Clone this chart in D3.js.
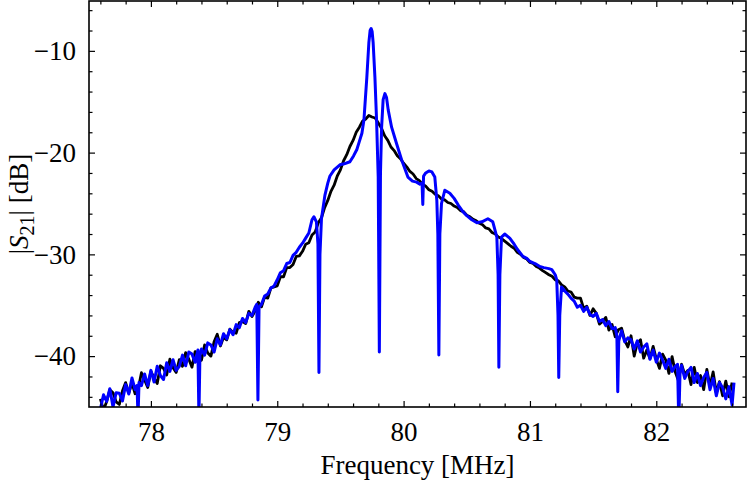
<!DOCTYPE html>
<html>
<head>
<meta charset="utf-8">
<script src="https://cdn.jsdelivr.net/npm/d3@7"></script>
<style>
  body { margin: 0; background: #fff; }
  svg { display: block; font-family: "Liberation Serif", "DejaVu Serif", serif; }
  .tick text { fill: #000; }
  .tick line { stroke: #000; stroke-width: 1.2; }
</style>
</head>
<body>
<script>

// axis ticks
var xMajorTicks = [78, 79, 80, 81, 82];
var yMajorTicks = [-40, -30, -20, -10];
var xMinorTicks = [77.6, 77.8, 78.2, 78.4, 78.6, 78.8, 79.2, 79.4, 79.6, 79.8, 80.2, 80.4, 80.6, 80.8,
                   81.2, 81.4, 81.6, 81.8, 82.2, 82.4, 82.6];
var yMinorTicks = [-44, -42, -38, -36, -34, -32, -28, -26, -24, -22, -18, -16, -14, -12, -8, -6];

// black trace: frequency [MHz], |S21| [dB]
var blackTrace = [
  [77.600,-44.2],[77.625,-45.3],[77.650,-44.45],[77.675,-43.3],[77.700,-43.6],[77.725,-44.5],[77.750,-44.75],[77.775,-43.4],
  [77.800,-42.6],[77.825,-43.63],[77.850,-42.65],[77.875,-43.7],[77.900,-43.2],[77.925,-41.63],[77.950,-42.35],[77.975,-43.08],
  [78.000,-41.5],[78.025,-42.15],[78.050,-42.7],[78.075,-40.95],[78.100,-41.2],[78.125,-41.85],[78.150,-40.3],[78.175,-41.15],
  [78.200,-41.6],[78.225,-40.35],[78.250,-41.0],[78.275,-39.65],[78.300,-40.3],[78.325,-41.08],[78.350,-39.55],[78.375,-39.73],
  [78.400,-40.4],[78.425,-38.9],[78.450,-39.7],[78.475,-40.0],[78.500,-38.6],[78.525,-37.85],[78.550,-39.0],[78.575,-38.15],
  [78.600,-38.4],[78.625,-37.35],[78.650,-37.7],[78.675,-37.75],[78.700,-36.7],[78.725,-36.6],[78.750,-36.8],[78.775,-35.6],
  [78.800,-36.1],[78.825,-35.55],[78.850,-34.7],[78.875,-35.15],[78.900,-34.2],[78.925,-34.3],[78.950,-33.3],[78.975,-33.2],
  [79.000,-33.1],[79.025,-32.2],[79.050,-32.2],[79.075,-31.3],[79.100,-31.3],[79.125,-31.0],[79.150,-30.2],[79.175,-30.15],
  [79.200,-29.7],[79.225,-29.0],[79.250,-28.85],[79.275,-28.1],[79.300,-27.8],[79.325,-26.9],[79.350,-26.4],[79.375,-25.4],
  [79.400,-24.7],[79.425,-23.8],[79.450,-23.2],[79.475,-22.3],[79.500,-21.7],[79.525,-20.8],[79.550,-20.2],[79.575,-19.4],
  [79.600,-18.8],[79.625,-18.0],[79.650,-17.5],[79.675,-16.9],[79.700,-16.7],[79.725,-16.35],[79.750,-16.5],[79.775,-16.6],
  [79.800,-17.1],[79.825,-17.6],[79.850,-18.35],[79.875,-18.8],[79.900,-19.45],[79.925,-19.8],[79.950,-20.3],[79.975,-20.6],
  [80.000,-21.05],[80.025,-21.4],[80.050,-21.85],[80.075,-22.1],[80.100,-22.55],[80.125,-22.75],[80.150,-23.1],[80.175,-23.3],
  [80.200,-23.65],[80.225,-23.8],[80.250,-24.1],[80.275,-24.25],[80.300,-24.55],[80.325,-24.65],[80.350,-24.9],[80.375,-25.0],
  [80.400,-25.25],[80.425,-25.4],[80.450,-25.7],[80.475,-25.8],[80.500,-26.15],[80.525,-26.3],[80.550,-26.55],[80.575,-26.7],
  [80.600,-26.95],[80.625,-27.1],[80.650,-27.4],[80.675,-27.5],[80.700,-27.85],[80.725,-28.0],[80.750,-28.3],[80.775,-28.45],
  [80.800,-28.7],[80.825,-28.95],[80.850,-29.2],[80.875,-29.4],[80.900,-29.8],[80.925,-30.0],[80.950,-30.3],[80.975,-30.45],
  [81.000,-30.8],[81.025,-30.9],[81.050,-31.2],[81.075,-31.35],[81.100,-31.6],[81.125,-31.8],[81.150,-32.0],[81.175,-32.15],
  [81.200,-32.5],[81.225,-32.6],[81.250,-33.0],[81.275,-33.2],[81.300,-33.6],[81.325,-33.7],[81.350,-34.2],[81.375,-34.3],
  [81.400,-34.3],[81.425,-35.3],[81.450,-35.1],[81.475,-36.0],[81.500,-35.35],[81.525,-35.8],[81.550,-36.85],[81.575,-36.6],
  [81.600,-36.2],[81.625,-37.45],[81.650,-36.9],[81.675,-38.1],[81.700,-37.4],[81.725,-37.25],[81.750,-38.45],[81.775,-39.1],
  [81.800,-38.0],[81.825,-40.0],[81.850,-38.7],[81.875,-38.4],[81.900,-40.2],[81.925,-39.4],[81.950,-40.25],[81.975,-39.05],
  [82.000,-40.3],[82.025,-41.2],[82.050,-39.8],[82.075,-40.4],[82.100,-41.7],[82.125,-40.05],[82.150,-41.55],[82.175,-42.4],
  [82.200,-40.8],[82.225,-41.8],[82.250,-41.4],[82.275,-42.8],[82.300,-41.1],[82.325,-42.6],[82.350,-41.9],[82.375,-43.3],
  [82.400,-41.3],[82.425,-42.95],[82.450,-41.55],[82.475,-43.6],[82.500,-42.5],[82.525,-43.9],[82.550,-42.45],[82.575,-44.0],
  [82.600,-42.6]
];

// blue trace: frequency [MHz], |S21| [dB]  (narrow dips every ~0.475 MHz)
var blueTrace = [
  [77.600,-45.2],[77.625,-43.8],[77.650,-44.45],[77.675,-43.2],[77.700,-45.0],[77.725,-43.6],[77.750,-43.65],[77.775,-44.4],
  [77.800,-42.8],[77.825,-43.73],[77.850,-42.15],[77.875,-43.3],[77.890,-42.9],[77.898,-46.0],[77.906,-42.6],[77.925,-42.9],
  [77.950,-41.75],[77.975,-42.9],[78.000,-41.4],[78.025,-42.55],[78.050,-41.0],[78.075,-41.9],[78.100,-42.3],[78.125,-40.65],
  [78.150,-41.5],[78.175,-40.35],[78.200,-41.4],[78.225,-41.0],[78.250,-39.9],[78.275,-40.95],[78.300,-39.6],[78.325,-39.8],
  [78.350,-40.6],[78.372,-39.4],[78.380,-46.0],[78.388,-39.9],[78.400,-39.3],[78.425,-39.9],[78.450,-38.7],[78.475,-38.9],
  [78.500,-39.6],[78.525,-38.3],[78.550,-38.9],[78.575,-37.8],[78.600,-38.3],[78.625,-37.4],[78.650,-37.9],[78.675,-36.9],
  [78.700,-37.2],[78.725,-36.3],[78.750,-36.7],[78.775,-35.8],[78.800,-36.0],[78.825,-35.2],[78.838,-34.9],[78.847,-44.3],
  [78.856,-35.2],[78.875,-34.9],[78.900,-34.1],[78.925,-33.9],[78.950,-33.3],[78.975,-33.1],[79.000,-32.5],[79.025,-31.8],
  [79.050,-31.6],[79.075,-30.9],[79.100,-30.8],[79.125,-30.1],[79.150,-29.8],[79.175,-29.3],[79.200,-28.9],[79.225,-28.4],
  [79.250,-27.9],[79.275,-26.6],[79.290,-26.3],[79.310,-26.8],[79.322,-29.0],[79.330,-41.6],[79.338,-30.0],[79.350,-26.5],
  [79.377,-24.2],[79.400,-23.0],[79.417,-22.3],[79.450,-21.7],[79.496,-21.2],[79.530,-21.1],[79.575,-20.9],[79.605,-20.3],
  [79.630,-19.7],[79.650,-18.9],[79.670,-18.1],[79.686,-16.8],[79.698,-14.6],[79.709,-12.6],[79.725,-9.2],[79.735,-8.0],
  [79.743,-7.8],[79.751,-8.1],[79.759,-9.2],[79.773,-12.6],[79.786,-16.8],[79.799,-22.4],[79.808,-39.6],[79.817,-22.0],
  [79.826,-17.5],[79.838,-14.8],[79.852,-14.2],[79.865,-14.6],[79.878,-15.8],[79.905,-17.5],[79.944,-19.1],[79.984,-20.7],
  [80.034,-22.4],[80.070,-22.8],[80.103,-22.9],[80.129,-23.1],[80.146,-23.0],[80.152,-25.1],[80.158,-22.3],[80.175,-22.0],
  [80.200,-21.8],[80.224,-21.9],[80.247,-22.4],[80.263,-24.7],[80.271,-28.0],[80.279,-39.9],[80.287,-28.0],[80.300,-25.0],
  [80.326,-23.7],[80.366,-24.0],[80.400,-24.5],[80.435,-25.2],[80.469,-25.8],[80.500,-26.2],[80.540,-26.6],[80.580,-26.9],
  [80.620,-26.8],[80.667,-26.5],[80.706,-26.8],[80.738,-28.3],[80.748,-32.0],[80.754,-41.1],[80.762,-32.0],[80.775,-28.3],
  [80.800,-28.0],[80.840,-28.4],[80.875,-29.0],[80.900,-29.5],[80.944,-30.2],[80.975,-30.4],[81.000,-30.7],[81.040,-30.9],
  [81.078,-31.2],[81.110,-31.3],[81.150,-31.4],[81.173,-31.5],[81.200,-32.0],[81.212,-32.5],[81.222,-36.0],[81.228,-42.1],
  [81.236,-36.0],[81.250,-33.2],[81.275,-33.6],[81.300,-33.9],[81.325,-34.3],[81.350,-34.6],[81.375,-35.2],[81.400,-35.0],
  [81.425,-35.6],[81.450,-35.2],[81.475,-35.9],[81.500,-36.1],[81.525,-35.8],[81.550,-36.6],[81.575,-36.4],[81.600,-37.0],
  [81.625,-36.6],[81.650,-37.3],[81.675,-37.2],[81.688,-38.0],[81.695,-43.5],[81.703,-38.5],[81.725,-37.5],[81.750,-38.6],
  [81.775,-38.2],[81.800,-38.4],[81.825,-39.3],[81.850,-38.5],[81.875,-39.6],[81.900,-39.1],[81.925,-38.8],[81.950,-40.3],
  [81.975,-39.4],[82.000,-40.6],[82.025,-39.7],[82.050,-40.4],[82.075,-41.2],[82.100,-40.3],[82.125,-41.5],[82.150,-41.0],
  [82.168,-40.8],[82.178,-46.5],[82.188,-41.6],[82.200,-40.9],[82.225,-42.2],[82.250,-41.5],[82.275,-41.1],[82.300,-42.6],
  [82.325,-41.7],[82.350,-42.9],[82.375,-42.1],[82.400,-41.6],[82.425,-43.3],[82.450,-42.2],[82.475,-43.9],[82.500,-42.6],
  [82.525,-43.1],[82.550,-44.2],[82.575,-43.0],[82.600,-44.8],[82.615,-42.6]
];

var width = 747, height = 482;
var margin = {top: 1, right: 1, bottom: 75, left: 89};
var fontSize = 27;

var svg = d3.select("body").append("svg")
  .attr("width", width)
  .attr("height", height);

var x = d3.scaleLinear().domain([77.51, 82.71]).range([margin.left, width - margin.right]);
var y = d3.scaleLinear().domain([-45, -5.1]).range([height - margin.bottom, margin.top]);

var minus = function(d) { return d < 0 ? "\u2212" + Math.abs(d) : d + ""; };

svg.append("clipPath").attr("id", "plotclip")
  .append("rect")
  .attr("x", x.range()[0]).attr("y", y.range()[1])
  .attr("width", x.range()[1] - x.range()[0])
  .attr("height", y.range()[0] - y.range()[1]);

var line = d3.line()
  .x(function(d) { return x(d[0]); })
  .y(function(d) { return y(d[1]); });

var traces = svg.append("g").attr("clip-path", "url(#plotclip)");

traces.append("path")
  .datum(blackTrace)
  .attr("d", line)
  .attr("fill", "none")
  .attr("stroke", "#000")
  .attr("stroke-width", 2.8)
  .attr("stroke-linejoin", "round");

traces.append("path")
  .datum(blueTrace)
  .attr("d", line)
  .attr("fill", "none")
  .attr("stroke", "#0000ff")
  .attr("stroke-width", 3)
  .attr("stroke-linejoin", "round");

// ticks on all four sides, pointing inward
var bottomY = y.range()[0], topY = y.range()[1];
var leftX = x.range()[0], rightX = x.range()[1];

function addAxis(axis, tx, ty) {
  var g = svg.append("g").attr("transform", "translate(" + tx + "," + ty + ")").call(axis);
  g.select(".domain").remove();
  return g;
}

addAxis(d3.axisBottom(x).tickValues(xMajorTicks).tickSize(-6).tickPadding(12).tickFormat(minus), 0, bottomY)
  .selectAll("text").attr("dy", "0.8em");
addAxis(d3.axisBottom(x).tickValues(xMinorTicks).tickSize(-3.5).tickFormat(""), 0, bottomY);
addAxis(d3.axisTop(x).tickValues(xMajorTicks).tickSize(-6).tickFormat(""), 0, topY);
addAxis(d3.axisTop(x).tickValues(xMinorTicks).tickSize(-3.5).tickFormat(""), 0, topY);

addAxis(d3.axisLeft(y).tickValues(yMajorTicks).tickSize(-6).tickPadding(13).tickFormat(minus), leftX, 0);
addAxis(d3.axisLeft(y).tickValues(yMinorTicks).tickSize(-3.5).tickFormat(""), leftX, 0);
addAxis(d3.axisRight(y).tickValues(yMajorTicks).tickSize(-6).tickFormat(""), rightX, 0);
addAxis(d3.axisRight(y).tickValues(yMinorTicks).tickSize(-3.5).tickFormat(""), rightX, 0);

svg.selectAll(".tick text").attr("font-family", "Liberation Serif, serif").attr("font-size", fontSize);

// frame
svg.append("rect")
  .attr("x", leftX).attr("y", topY)
  .attr("width", rightX - leftX).attr("height", bottomY - topY)
  .attr("fill", "none")
  .attr("stroke", "#000")
  .attr("stroke-width", 1.6);

// axis titles
svg.append("text")
  .attr("x", (leftX + rightX) / 2)
  .attr("y", 474)
  .attr("text-anchor", "middle")
  .attr("font-size", fontSize)
  .text("Frequency [MHz]");

var yt = svg.append("text")
  .attr("transform", "translate(28," + ((topY + bottomY) / 2) + ") rotate(-90)")
  .attr("text-anchor", "middle")
  .attr("font-size", fontSize);
yt.append("tspan").text("|");
yt.append("tspan").attr("font-style", "italic").text("S");
yt.append("tspan").attr("font-size", 20).attr("dy", 6).text("21");
yt.append("tspan").attr("dy", -6).text("| [dB]");

</script>
</body>
</html>
